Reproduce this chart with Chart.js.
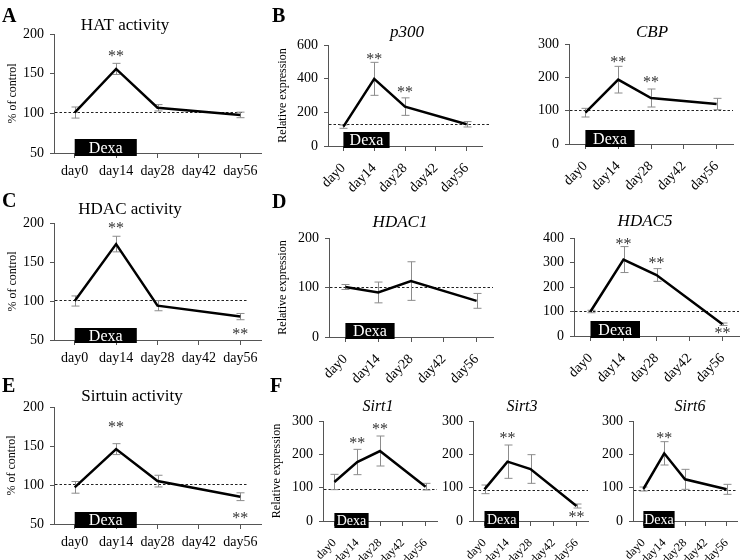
<!DOCTYPE html>
<html>
<head>
<meta charset="utf-8">
<script src="https://cdn.jsdelivr.net/npm/chart.js@4.4.1/dist/chart.umd.min.js"></script>
<style>
  body { margin: 0; background: #fff; }
  #wrap { position: relative; width: 747px; height: 560px; }
  canvas { position: absolute; left: 0; top: 0; }
</style>
</head>
<body>
<div id="wrap"></div>
<script>
const days = ['day0', 'day14', 'day28', 'day42', 'day56'];

// activity assays (% of control)
const hatVals = [101, 156, 107, null, 98];
const hatErr = [7, 7, 4, null, 3.5];
const hdacVals = [100, 173, 94, null, 80];
const hdacErr = [6.5, 10, 6.5, null, 4];
const sirtuinVals = [97, 146, 105, null, 85];
const sirtuinErr = [7.5, 7, 7.5, null, 5];

// relative expression
const p300Vals = [115, 399, 234, null, 129];
const p300Err = [10, 98, 52, null, 16];
const cbpVals = [94, 193, 138, null, 120];
const cbpErr = [13, 40, 27, null, 17];
const hdac1Vals = [101, 90, 113, null, 73];
const hdac1Err = [5, 21, 39, null, 15];
const hdac5Vals = [100, 312, 249, null, 48];
const hdac5Err = [5, 53, 26, null, 5];
const sirt1Vals = [117, 177, 210, null, 103];
const sirt1Err = [23, 38, 45, null, 10];
const sirt3Vals = [95, 178, 156, null, 45];
const sirt3Err = [13, 50, 43, null, 6];
const sirt6Vals = [96, 203, 125, null, 95];
const sirt6Err = [6, 35, 30, null, 15];

// control level (dashed line)
const refLevels = {hat: 102, p300: 131, cbp: 103, hdac: 101, hdac1: 101, hdac5: 103, sirtuin: 101.5, sirt1: 96, sirt3: 93, sirt6: 93};

// significance marks: [category index, value where ** sits]
const hatStars = [[1, 176]];
const p300Stars = [[1, 530], [2, 333]];
const cbpStars = [[1, 253], [2, 193]];
const hdacStars = [[1, 197], [4, 61]];
const hdac1Stars = [];
const hdac5Stars = [[1, 384], [2, 309], [4, 23]];
const sirtuinStars = [[1, 177], [4, 61]];
const sirt1Stars = [[1, 243], [2, 283]];
const sirt3Stars = [[1, 258], [4, 20]];
const sirt6Stars = [[1, 258]];

Chart.defaults.font.family = '"Liberation Serif", "Times New Roman", serif';
Chart.defaults.color = '#000';

const SERIF = '"Liberation Serif", "Times New Roman", serif';

const deco = {
  id: 'deco',
  beforeDatasetsDraw(chart, args, o) {
    const {ctx, chartArea: a, scales: {x, y}} = chart;
    ctx.save();
    ctx.strokeStyle = '#222';
    ctx.lineWidth = 1;
    ctx.setLineDash([2.5, 2]);
    const ry = Math.round(y.getPixelForValue(o.ref)) + 0.5;
    ctx.beginPath();
    ctx.moveTo(a.left + 1, ry);
    ctx.lineTo(a.right + o.dashEnd, ry);
    ctx.stroke();
    ctx.setLineDash([]);
    ctx.strokeStyle = '#8c8c8c';
    o.vals.forEach((v, i) => {
      const e = o.err[i];
      if (v == null || e == null) return;
      const px = Math.round(x.getPixelForValue(i)) + 0.5;
      const t = y.getPixelForValue(v + e), b = y.getPixelForValue(v - e);
      ctx.beginPath();
      ctx.moveTo(px, t); ctx.lineTo(px, b);
      ctx.moveTo(px - 4, t); ctx.lineTo(px + 4, t);
      ctx.moveTo(px - 4, b); ctx.lineTo(px + 4, b);
      ctx.stroke();
    });
    ctx.restore();
  },
  afterDraw(chart, args, o) {
    const {ctx, chartArea: a, scales: {x, y}} = chart;
    ctx.save();
    // Dexa treatment bar
    const bx0 = x.getPixelForValue(0), bx1 = x.getPixelForValue(1.5);
    const by0 = a.bottom - o.box[0], by1 = a.bottom + o.box[1];
    ctx.fillStyle = '#000';
    ctx.fillRect(bx0, by0, bx1 - bx0, by1 - by0);
    ctx.fillStyle = '#fff';
    ctx.font = o.box[2] + 'px ' + SERIF;
    ctx.textAlign = 'center';
    ctx.textBaseline = 'middle';
    ctx.fillText('Dexa', (bx0 + bx1) / 2, (by0 + by1) / 2 + 1);
    // ** marks
    ctx.fillStyle = '#333';
    ctx.font = '16px ' + SERIF;
    ctx.textBaseline = 'alphabetic';
    o.stars.forEach(([i, v]) => ctx.fillText('**', x.getPixelForValue(i), y.getPixelForValue(v) + 7.5));
    // panel title
    ctx.fillStyle = '#000';
    ctx.font = (o.italic ? 'italic ' : '') + o.tsize + 'px ' + SERIF;
    ctx.textBaseline = 'middle';
    ctx.fillText(o.title, o.tx, o.ty);
    if (o.letter) {
      ctx.font = 'bold 20px ' + SERIF;
      ctx.textAlign = 'left';
      ctx.textBaseline = 'alphabetic';
      ctx.fillText(o.letter[0], o.letter[1], o.letter[2]);
    }
    ctx.restore();
  }
};

const wrap = document.getElementById('wrap');

function panel(p) {
  const cv = document.createElement('canvas');
  cv.width = 747;
  cv.height = 560;
  wrap.appendChild(cv);
  const [x0, y0, x1, y1] = p.plot;
  const padLeft = p.ytitle ? p.ytx - 7.2 : x0 - 40;
  const yw = x0 - padLeft;
  const xh = Math.min(48, 560 - y1);
  new Chart(cv, {
    type: 'line',
    data: {
      labels: days,
      datasets: [{
        data: p.vals,
        borderColor: '#000',
        borderWidth: 2.5,
        pointRadius: 0,
        tension: 0,
        spanGaps: true,
      }],
    },
    options: {
      responsive: false,
      animation: false,
      devicePixelRatio: 1,
      layout: {
        padding: {left: padLeft, top: y0, right: 747 - x1, bottom: 560 - y1 - xh},
      },
      scales: {
        x: {
          offset: true,
          afterFit: (s) => { s.height = xh; },
          grid: {drawOnChartArea: false, tickLength: 5, color: '#555'},
          border: {color: '#555'},
          ticks: {
            font: {size: p.xsize},
            color: '#000',
            padding: p.rot ? p.xpad : 5,
            maxRotation: p.rot,
            minRotation: p.rot,
            autoSkip: false,
          },
        },
        y: {
          min: p.min,
          max: p.max,
          afterFit: (s) => { s.width = yw; },
          ticks: {stepSize: p.step, font: {size: 14}, color: '#000', padding: 6},
          grid: {drawOnChartArea: false, tickLength: 4, color: '#555'},
          border: {color: '#555'},
          title: {display: !!p.ytitle, text: p.ytitle || '', font: {size: 12}, color: '#000', padding: 0},
        },
      },
      plugins: {
        legend: {display: false},
        tooltip: {enabled: false},
        deco: {
          vals: p.vals, err: p.err, ref: p.ref, stars: p.stars,
          dashEnd: p.dashEnd || 0, box: p.box,
          title: p.title, italic: p.italic, tsize: p.tsize, tx: p.tt[0], ty: p.tt[1],
          letter: p.letter,
        },
      },
    },
    plugins: [deco],
  });
}

// A
panel({plot: [54, 34, 261, 153], min: 50, max: 200, step: 50, vals: hatVals, err: hatErr, ref: refLevels.hat,
  stars: hatStars, dashEnd: -18, box: [14, 3, 16], title: 'HAT activity', italic: false, tsize: 17, tt: [125, 26],
  ytitle: '% of control', ytx: 13, xsize: 14, rot: 0, letter: ['A', 2, 22]});
// B
panel({plot: [328, 45, 482, 146], min: 0, max: 600, step: 200, vals: p300Vals, err: p300Err, ref: refLevels.p300,
  stars: p300Stars, dashEnd: 8, box: [14, 2, 16], title: 'p300', italic: true, tsize: 17, tt: [407, 33],
  ytitle: 'Relative expression', ytx: 283, xsize: 14, xpad: 9, rot: 45, letter: ['B', 272, 22]});
panel({plot: [569, 44, 733, 144], min: 0, max: 300, step: 100, vals: cbpVals, err: cbpErr, ref: refLevels.cbp,
  stars: cbpStars, box: [14, 3, 16], title: 'CBP', italic: true, tsize: 17, tt: [652, 33],
  xsize: 14, xpad: 9, rot: 45});
// C
panel({plot: [54, 223, 261, 340], min: 50, max: 200, step: 50, vals: hdacVals, err: hdacErr, ref: refLevels.hdac,
  stars: hdacStars, dashEnd: -13, box: [12, 3, 16], title: 'HDAC activity', italic: false, tsize: 17, tt: [130, 210],
  ytitle: '% of control', ytx: 13, xsize: 14, rot: 0, letter: ['C', 2, 207]});
// D
panel({plot: [329, 238, 493, 337], min: 0, max: 200, step: 100, vals: hdac1Vals, err: hdac1Err, ref: refLevels.hdac1,
  stars: hdac1Stars, box: [14, 2, 16], title: 'HDAC1', italic: true, tsize: 17, tt: [400, 223],
  ytitle: 'Relative expression', ytx: 283, xsize: 14, xpad: 9, rot: 45, letter: ['D', 272, 208]});
panel({plot: [574, 238, 739, 336], min: 0, max: 400, step: 100, vals: hdac5Vals, err: hdac5Err, ref: refLevels.hdac5,
  stars: hdac5Stars, box: [15, 2, 16], title: 'HDAC5', italic: true, tsize: 17, tt: [645, 222],
  xsize: 14, xpad: 9, rot: 45});
// E
panel({plot: [54, 407, 261, 524], min: 50, max: 200, step: 50, vals: sirtuinVals, err: sirtuinErr, ref: refLevels.sirtuin,
  stars: sirtuinStars, dashEnd: -13, box: [12, 4, 16], title: 'Sirtuin activity', italic: false, tsize: 17, tt: [132, 397],
  ytitle: '% of control', ytx: 12, xsize: 14, rot: 0, letter: ['E', 2, 392]});
// F
panel({plot: [323, 421, 437, 521], min: 0, max: 300, step: 100, vals: sirt1Vals, err: sirt1Err, ref: refLevels.sirt1,
  stars: sirt1Stars, box: [8, 7, 14], title: 'Sirt1', italic: true, tsize: 16, tt: [378, 407],
  ytitle: 'Relative expression', ytx: 277, xsize: 12, xpad: 10, rot: 45, letter: ['F', 270, 392]});
panel({plot: [473, 421, 588, 521], min: 0, max: 300, step: 100, vals: sirt3Vals, err: sirt3Err, ref: refLevels.sirt3,
  stars: sirt3Stars, box: [10, 7, 14], title: 'Sirt3', italic: true, tsize: 16, tt: [522, 407],
  xsize: 12, xpad: 10, rot: 45});
panel({plot: [633, 421, 745, 521], min: 0, max: 300, step: 100, vals: sirt6Vals, err: sirt6Err, ref: refLevels.sirt6,
  stars: sirt6Stars, box: [10, 7, 14], title: 'Sirt6', italic: true, tsize: 16, tt: [690, 407],
  xsize: 12, xpad: 10, rot: 45});
</script>
</body>
</html>
